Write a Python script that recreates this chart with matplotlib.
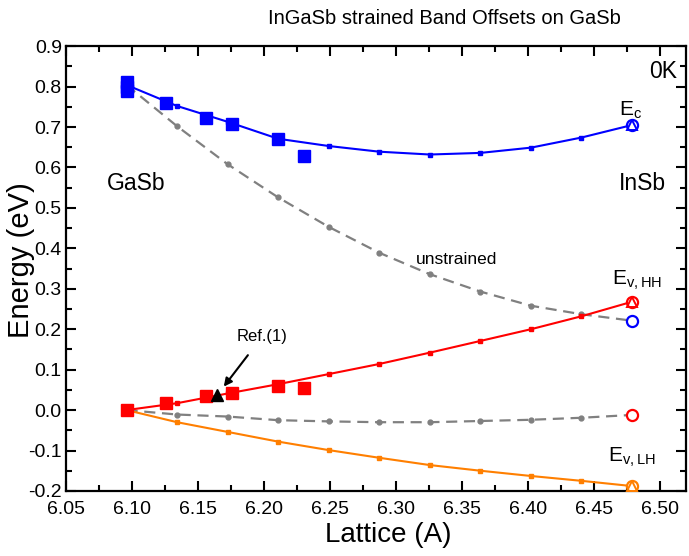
import matplotlib
matplotlib.use("Agg")
import matplotlib.pyplot as plt
from matplotlib.ticker import MultipleLocator

plt.rcParams["font.family"] = ["Liberation Sans", "DejaVu Sans"]

# lattice constants of In(x)Ga(1-x)Sb, x = 0 .. 1 in steps of 0.1
lattice = [6.0959, 6.1342, 6.1725, 6.2108, 6.2492, 6.2875,
           6.3258, 6.3642, 6.4025, 6.4408, 6.4792]

# strained calculations
ec_strained = [0.804, 0.752, 0.713, 0.671, 0.653, 0.639,
               0.632, 0.636, 0.649, 0.674, 0.705]
ev_hh = [0.0, 0.017, 0.041, 0.064, 0.089, 0.114,
         0.142, 0.171, 0.200, 0.232, 0.268]
ev_lh = [0.0, -0.030, -0.054, -0.078, -0.099, -0.118,
         -0.136, -0.150, -0.163, -0.175, -0.188]

# unstrained
ec_unstrained = [0.804, 0.702, 0.608, 0.526, 0.453, 0.389,
                 0.336, 0.293, 0.258, 0.237, 0.221]
ev_unstrained = [0.0, -0.011, -0.016, -0.025, -0.028, -0.030,
                 -0.030, -0.027, -0.024, -0.019, -0.012]

# experimental points
exp_lattice_c = [6.0959, 6.0959, 6.0959, 6.126, 6.1565, 6.176, 6.2107, 6.2305]
exp_ec = [0.812, 0.800, 0.790, 0.760, 0.723, 0.707, 0.670, 0.629]
exp_lattice_v = [6.0959, 6.126, 6.1565, 6.176, 6.2107, 6.2305]
exp_ev = [0.0, 0.018, 0.035, 0.043, 0.059, 0.055]

ref1_lattice = [6.1646]
ref1_ev = [0.037]

fig = plt.figure(figsize=(6.89, 5.56), dpi=100)
ax = fig.add_axes([0.0958, 0.117, 0.8998, 0.800])

orange = "#ff7f00"
gray = "#808080"

ax.plot(lattice, ec_unstrained, "--", color=gray, lw=1.6, marker="o", ms=3.5,
        dashes=(5, 3))
ax.plot(lattice, ev_unstrained, "--", color=gray, lw=1.6, marker="o", ms=3.5,
        dashes=(5, 3))
ax.plot(lattice, ec_strained, "-", color="blue", lw=1.5, marker="s", ms=3.5)
ax.plot(lattice, ev_hh, "-", color="red", lw=1.5, marker="s", ms=3.5)
ax.plot(lattice, ev_lh, "-", color=orange, lw=1.5, marker="s", ms=3.5)

# InSb end points (hollow)
hollow = dict(mfc="white", mew=1.6, ms=8, zorder=4)
ax.plot(lattice[-1], ec_strained[-1], "o", mec="blue", **hollow)
ax.plot(lattice[-1], ec_unstrained[-1], "o", mec="blue", **hollow)
ax.plot(lattice[-1], ev_hh[-1], "o", mec="red", **hollow)
ax.plot(lattice[-1], ev_unstrained[-1], "o", mec="red", **hollow)
ax.plot(lattice[-1], ev_lh[-1], "o", mec=orange, **hollow)
tri = dict(mfc="none", mew=1.4, ms=7, zorder=5)
ax.plot(lattice[-1], ec_strained[-1], "^", mec="blue", **tri)
ax.plot(lattice[-1], ev_hh[-1], "^", mec="red", **tri)
ax.plot(lattice[-1], ev_lh[-1], "^", mec=orange, **tri)
# GaSb start points
ax.plot(lattice[0], ev_hh[0], "o", color="red", ms=8)

ax.plot(exp_lattice_c, exp_ec, "s", color="blue", ms=9, zorder=5)
ax.plot(exp_lattice_v, exp_ev, "s", color="red", ms=9, zorder=5)
ax.plot(ref1_lattice, ref1_ev, "^", color="black", ms=9, zorder=6)

ax.annotate("Ref.(1)", xy=(6.1696, 0.058), xytext=(6.199, 0.183),
            ha="center", va="center", fontsize=12,
            arrowprops=dict(arrowstyle="-|>", color="black", lw=1.5,
                            shrinkA=8, shrinkB=0, mutation_scale=12))

ax.text(6.1035, 0.56, "GaSb", ha="center", va="center", fontsize=16.5)
ax.text(6.487, 0.56, "InSb", ha="center", va="center", fontsize=16.5)
ax.text(6.503, 0.838, "0K", ha="center", va="center", fontsize=16.5)
ax.text(6.346, 0.372, "unstrained", ha="center", va="center", fontsize=12.5)
ax.text(6.469, 0.742, r"E$_\mathregular{c}$", ha="left", va="center", fontsize=15)
ax.text(6.464, 0.322, r"E$_\mathregular{v,HH}$", ha="left", va="center", fontsize=15)
ax.text(6.461, -0.116, r"E$_\mathregular{v,LH}$", ha="left", va="center", fontsize=15)

ax.set_xlim(6.05, 6.52)
ax.set_ylim(-0.2, 0.9)
ax.xaxis.set_major_locator(MultipleLocator(0.05))
ax.xaxis.set_minor_locator(MultipleLocator(0.025))
ax.yaxis.set_major_locator(MultipleLocator(0.1))
ax.yaxis.set_minor_locator(MultipleLocator(0.05))
ax.xaxis.set_major_formatter(plt.FormatStrFormatter("%.2f"))
ax.yaxis.set_major_formatter(plt.FormatStrFormatter("%.1f"))
ax.tick_params(which="both", direction="in", top=True, right=True, width=1.5,
               labelsize=14)
ax.tick_params(which="major", length=7)
ax.tick_params(which="minor", length=4)
ax.tick_params(axis="x", pad=7)
ax.tick_params(axis="y", pad=3)
for sp in ax.spines.values():
    sp.set_linewidth(1.6)

ax.set_xlabel("Lattice (A)", fontsize=20)
ax.xaxis.set_label_coords(0.52, -0.07)
ax.set_ylabel("Energy (eV)", fontsize=21)
ax.yaxis.set_label_coords(-0.05, 0.52)

fig.text(0.645, 0.967, "InGaSb strained Band Offsets on GaSb",
         ha="center", va="center", fontsize=14.5)

fig.savefig("out.png", dpi=100, facecolor="white")
